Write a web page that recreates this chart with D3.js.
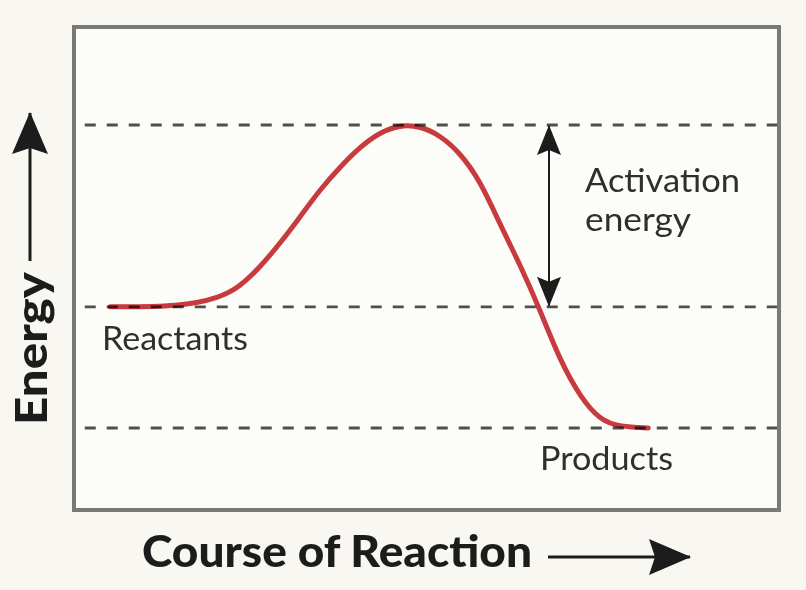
<!DOCTYPE html>
<html>
<head>
<meta charset="utf-8">
<script src="https://cdn.jsdelivr.net/npm/d3@7"></script>
<style>
  html, body { margin: 0; padding: 0; background: #f8f7f2; }
  svg { display: block; }
</style>
</head>
<body>
<svg id="chart" width="806" height="590"></svg>
<script>
// ---- data ----
const progress = [5.4, 15.3, 20.9, 23.7, 26.6, 29.4, 32.2, 35.0, 37.9, 40.7, 43.5, 46.3, 49.2, 52.0, 54.8, 57.6, 60.5, 63.3, 66.1, 68.9, 71.8, 74.6, 77.4, 81.4];
const energy   = [50,  50,   51.5, 53.3, 56.6, 60.5, 64.8, 69.3, 73.1, 76.4, 78.8, 80,   79.8, 78.3, 75.4, 70.9, 63.5, 56.9, 49.5, 41.2, 35.1, 31.3, 30.2, 30];
const levelNames = ["Transition", "Reactants", "Products"];
const levelValues = [80, 50, 30];
const labels = ["Reactants", "Products"];
const activationLabel = ["Activation", "energy"];
const xTitle = "Course of Reaction";
const yTitle = "Energy";

// ---- layout ----
const svg = d3.select("#chart");
const frame = { left: 74, top: 27, right: 779, bottom: 510 };
const x = d3.scaleLinear().domain([0, 100]).range([72, 780]);
const y = d3.scaleLinear().domain([30, 80]).range([428, 125]);

const red = "#c73a3e";
const ink = "#1c1c1c";
const gray = "#51504e";
const textCol = "#2f2f2f";
const regFont = "Lato, 'Open Sans', sans-serif";

// frame
svg.append("rect")
  .attr("x", frame.left).attr("y", frame.top)
  .attr("width", frame.right - frame.left)
  .attr("height", frame.bottom - frame.top)
  .attr("fill", "#fcfcf9")
  .attr("stroke", "#7b7976")
  .attr("stroke-width", 4);

// curve
const line = d3.line()
  .x((d, i) => x(progress[i]))
  .y((d, i) => y(energy[i]))
  .curve(d3.curveBasis);

svg.append("path")
  .datum(progress)
  .attr("d", line)
  .attr("fill", "none")
  .attr("stroke", red)
  .attr("stroke-width", 5)
  .attr("stroke-linecap", "round");

// dashed levels
svg.selectAll("line.level")
  .data(levelValues)
  .join("line")
  .attr("class", "level")
  .attr("x1", x(1.8)).attr("x2", frame.right - 2)
  .attr("y1", d => y(d)).attr("y2", d => y(d))
  .attr("stroke", gray)
  .attr("stroke-width", 2.8)
  .attr("stroke-dasharray", "11 11")
  .style("mix-blend-mode", "multiply");

// markers
const defs = svg.append("defs");
function head(id, len, half, notch) {
  defs.append("marker")
    .attr("id", id)
    .attr("viewBox", `0 0 ${len} ${half * 2}`)
    .attr("refX", len - 1).attr("refY", half)
    .attr("markerWidth", len).attr("markerHeight", half * 2)
    .attr("markerUnits", "userSpaceOnUse")
    .attr("orient", "auto-start-reverse")
    .append("path")
    .attr("d", `M0,0 L${len},${half} L0,${half * 2} L${notch},${half} Z`)
    .attr("fill", ink);
}
head("ah", 30, 12, 5);
head("ahBig", 42, 18, 6);

// activation energy double arrow
const ax = 549;
svg.append("line")
  .attr("x1", ax).attr("x2", ax)
  .attr("y1", y(levelValues[0]) + 1).attr("y2", y(levelValues[1]) - 1)
  .attr("stroke", ink).attr("stroke-width", 2)
  .attr("marker-start", "url(#ah)")
  .attr("marker-end", "url(#ah)");

svg.selectAll("text.act")
  .data(activationLabel)
  .join("text")
  .attr("class", "act")
  .attr("x", 585)
  .attr("y", (d, i) => 192 + i * 39)
  .attr("font-family", regFont)
  .attr("font-size", 32)
  .attr("fill", textCol)
  .attr("textLength", (d, i) => i === 0 ? 155 : 106)
  .attr("lengthAdjust", "spacingAndGlyphs")
  .text(d => d);

// level labels
svg.append("text")
  .attr("x", 102).attr("y", 350)
  .attr("font-family", regFont)
  .attr("font-size", 32).attr("fill", textCol)
  .attr("textLength", 146).attr("lengthAdjust", "spacingAndGlyphs")
  .text(labels[0]);
svg.append("text")
  .attr("x", 540).attr("y", 470)
  .attr("font-family", regFont)
  .attr("font-size", 32).attr("fill", textCol)
  .attr("textLength", 133).attr("lengthAdjust", "spacingAndGlyphs")
  .text(labels[1]);

// x title
svg.append("text")
  .attr("x", 142).attr("y", 567)
  .attr("font-family", regFont)
  .attr("font-weight", 900)
  .attr("font-size", 43).attr("fill", ink)
  .attr("textLength", 390).attr("lengthAdjust", "spacingAndGlyphs")
  .text(xTitle);
svg.append("line")
  .attr("x1", 548).attr("x2", 690)
  .attr("y1", 557).attr("y2", 557)
  .attr("stroke", ink).attr("stroke-width", 3)
  .attr("marker-end", "url(#ahBig)");

// y title
svg.append("text")
  .attr("transform", "translate(47,425) rotate(-90)")
  .attr("font-family", regFont)
  .attr("font-weight", 900)
  .attr("font-size", 43).attr("fill", ink)
  .attr("textLength", 153).attr("lengthAdjust", "spacingAndGlyphs")
  .text(yTitle);
svg.append("line")
  .attr("x1", 30).attr("x2", 30)
  .attr("y1", 261).attr("y2", 113)
  .attr("stroke", ink).attr("stroke-width", 3)
  .attr("marker-end", "url(#ahBig)");
</script>
</body>
</html>
